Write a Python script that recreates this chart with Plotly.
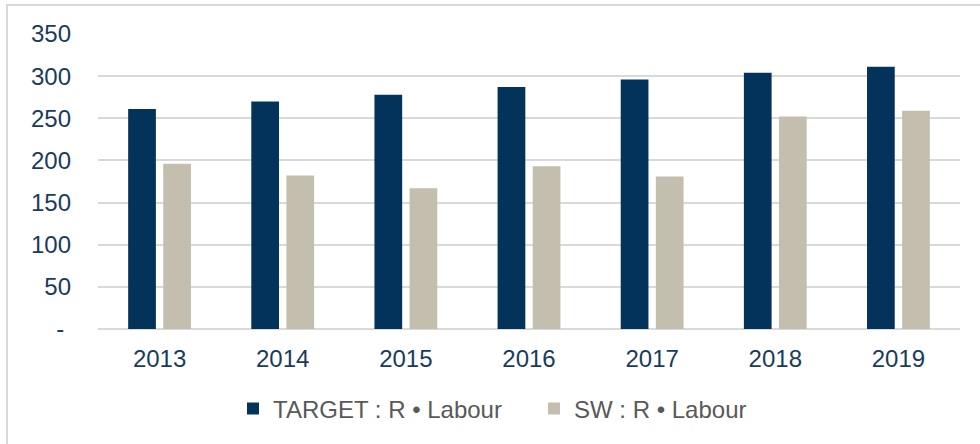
import plotly.graph_objects as go

years = ["2013", "2014", "2015", "2016", "2017", "2018", "2019"]
target_labour = [261, 270, 278, 287, 296, 304, 311]
sw_labour = [196, 182, 167, 193, 181, 252, 259]
y_tick_vals = [0, 50, 100, 150, 200, 250, 300, 350]
y_tick_text = ["-\u00a0", "50", "100", "150", "200", "250", "300", "350"]
series_names = ["TARGET : R \u2022 Labour", "SW : R \u2022 Labour"]

NAVY = "#03335A"
BEIGE = "#C4BEAE"
TICK_COLOR = "#1A3B5D"
GRID = "#D9D9D9"

fig = go.Figure()
fig.add_trace(go.Bar(x=years, y=target_labour, name=series_names[0],
                     marker=dict(color=NAVY, line=dict(width=0))))
fig.add_trace(go.Bar(x=years, y=sw_labour, name=series_names[1],
                     marker=dict(color=BEIGE, line=dict(width=0))))

W, H = 980, 444
L, R, T, B = 98, 20, 34, 115
pw = W - L - R
ph = H - T - B

def px_to_paper_x(px):
    return (px - L) / pw

def px_to_paper_y(py):
    return (H - B - py) / ph

fig.update_layout(
    width=W, height=H,
    margin=dict(l=L, r=R, t=T, b=B, autoexpand=False),
    paper_bgcolor="white", plot_bgcolor="white",
    barmode="group", bargap=0.43, bargroupgap=0.21,
    font=dict(family="Liberation Sans, Arial, sans-serif", color=TICK_COLOR),
    xaxis=dict(showgrid=False, showline=False, zeroline=False, ticks="",
               tickfont=dict(size=24, color=TICK_COLOR), ticklabelstandoff=13),
    yaxis=dict(range=[0, 350], tickvals=y_tick_vals, ticktext=y_tick_text,
               showgrid=True, gridcolor=GRID, gridwidth=1.5,
               zeroline=True, zerolinecolor=GRID, zerolinewidth=2,
               showline=False, ticks="",
               tickfont=dict(size=24, color=TICK_COLOR), ticklabelstandoff=26),
    legend=dict(orientation="h", xref="container", yref="container",
                x=534 / W, xanchor="center", y=1 - 409 / H, yanchor="middle",
                font=dict(size=24, color="#595959"),
                entrywidth=256, itemwidth=30),
    showlegend=True,
    shapes=[dict(type="rect", xref="paper", yref="paper",
                 x0=px_to_paper_x(7), x1=px_to_paper_x(990),
                 y0=px_to_paper_y(460), y1=px_to_paper_y(5),
                 line=dict(color=GRID, width=2), fillcolor="rgba(0,0,0,0)",
                 layer="below")],
)

fig.write_html("out.html", config={"displayModeBar": False},
               post_script="document.body.style.margin='0';document.body.style.padding='0';")
